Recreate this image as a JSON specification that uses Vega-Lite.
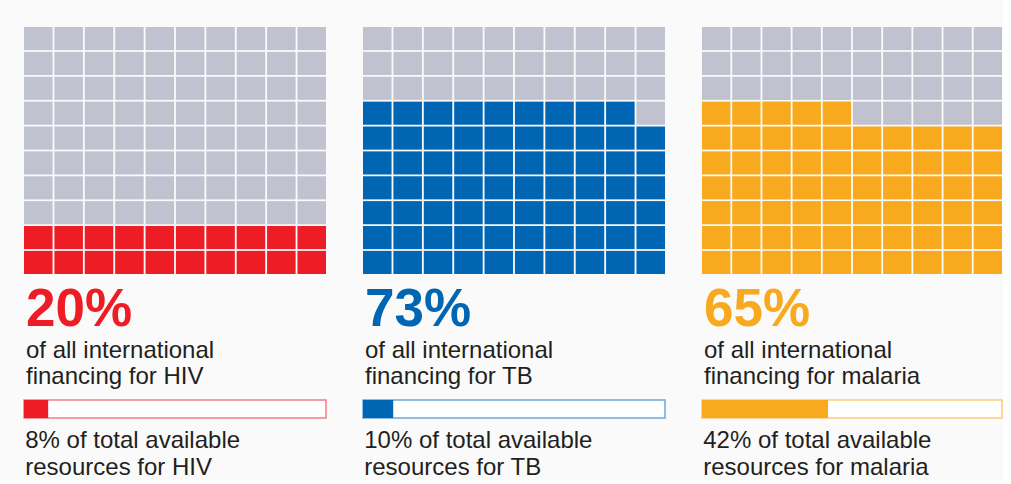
{
"$schema": "https://vega.github.io/schema/vega-lite/v6.json",
"background": "#fafafa",
"padding": {"left": 23, "top": 27, "right": 0, "bottom": 0},
"config": {"view": {"stroke": null}, "font": "Liberation Sans"},
"datasets": {
"cells": [
{"d":"HIV","r":1,"c":1,"s":0},{"d":"HIV","r":1,"c":2,"s":0},{"d":"HIV","r":1,"c":3,"s":0},{"d":"HIV","r":1,"c":4,"s":0},{"d":"HIV","r":1,"c":5,"s":0},{"d":"HIV","r":1,"c":6,"s":0},{"d":"HIV","r":1,"c":7,"s":0},{"d":"HIV","r":1,"c":8,"s":0},{"d":"HIV","r":1,"c":9,"s":0},{"d":"HIV","r":1,"c":10,"s":0},
{"d":"HIV","r":2,"c":1,"s":0},{"d":"HIV","r":2,"c":2,"s":0},{"d":"HIV","r":2,"c":3,"s":0},{"d":"HIV","r":2,"c":4,"s":0},{"d":"HIV","r":2,"c":5,"s":0},{"d":"HIV","r":2,"c":6,"s":0},{"d":"HIV","r":2,"c":7,"s":0},{"d":"HIV","r":2,"c":8,"s":0},{"d":"HIV","r":2,"c":9,"s":0},{"d":"HIV","r":2,"c":10,"s":0},
{"d":"HIV","r":3,"c":1,"s":0},{"d":"HIV","r":3,"c":2,"s":0},{"d":"HIV","r":3,"c":3,"s":0},{"d":"HIV","r":3,"c":4,"s":0},{"d":"HIV","r":3,"c":5,"s":0},{"d":"HIV","r":3,"c":6,"s":0},{"d":"HIV","r":3,"c":7,"s":0},{"d":"HIV","r":3,"c":8,"s":0},{"d":"HIV","r":3,"c":9,"s":0},{"d":"HIV","r":3,"c":10,"s":0},
{"d":"HIV","r":4,"c":1,"s":0},{"d":"HIV","r":4,"c":2,"s":0},{"d":"HIV","r":4,"c":3,"s":0},{"d":"HIV","r":4,"c":4,"s":0},{"d":"HIV","r":4,"c":5,"s":0},{"d":"HIV","r":4,"c":6,"s":0},{"d":"HIV","r":4,"c":7,"s":0},{"d":"HIV","r":4,"c":8,"s":0},{"d":"HIV","r":4,"c":9,"s":0},{"d":"HIV","r":4,"c":10,"s":0},
{"d":"HIV","r":5,"c":1,"s":0},{"d":"HIV","r":5,"c":2,"s":0},{"d":"HIV","r":5,"c":3,"s":0},{"d":"HIV","r":5,"c":4,"s":0},{"d":"HIV","r":5,"c":5,"s":0},{"d":"HIV","r":5,"c":6,"s":0},{"d":"HIV","r":5,"c":7,"s":0},{"d":"HIV","r":5,"c":8,"s":0},{"d":"HIV","r":5,"c":9,"s":0},{"d":"HIV","r":5,"c":10,"s":0},
{"d":"HIV","r":6,"c":1,"s":0},{"d":"HIV","r":6,"c":2,"s":0},{"d":"HIV","r":6,"c":3,"s":0},{"d":"HIV","r":6,"c":4,"s":0},{"d":"HIV","r":6,"c":5,"s":0},{"d":"HIV","r":6,"c":6,"s":0},{"d":"HIV","r":6,"c":7,"s":0},{"d":"HIV","r":6,"c":8,"s":0},{"d":"HIV","r":6,"c":9,"s":0},{"d":"HIV","r":6,"c":10,"s":0},
{"d":"HIV","r":7,"c":1,"s":0},{"d":"HIV","r":7,"c":2,"s":0},{"d":"HIV","r":7,"c":3,"s":0},{"d":"HIV","r":7,"c":4,"s":0},{"d":"HIV","r":7,"c":5,"s":0},{"d":"HIV","r":7,"c":6,"s":0},{"d":"HIV","r":7,"c":7,"s":0},{"d":"HIV","r":7,"c":8,"s":0},{"d":"HIV","r":7,"c":9,"s":0},{"d":"HIV","r":7,"c":10,"s":0},
{"d":"HIV","r":8,"c":1,"s":0},{"d":"HIV","r":8,"c":2,"s":0},{"d":"HIV","r":8,"c":3,"s":0},{"d":"HIV","r":8,"c":4,"s":0},{"d":"HIV","r":8,"c":5,"s":0},{"d":"HIV","r":8,"c":6,"s":0},{"d":"HIV","r":8,"c":7,"s":0},{"d":"HIV","r":8,"c":8,"s":0},{"d":"HIV","r":8,"c":9,"s":0},{"d":"HIV","r":8,"c":10,"s":0},
{"d":"HIV","r":9,"c":1,"s":1},{"d":"HIV","r":9,"c":2,"s":1},{"d":"HIV","r":9,"c":3,"s":1},{"d":"HIV","r":9,"c":4,"s":1},{"d":"HIV","r":9,"c":5,"s":1},{"d":"HIV","r":9,"c":6,"s":1},{"d":"HIV","r":9,"c":7,"s":1},{"d":"HIV","r":9,"c":8,"s":1},{"d":"HIV","r":9,"c":9,"s":1},{"d":"HIV","r":9,"c":10,"s":1},
{"d":"HIV","r":10,"c":1,"s":1},{"d":"HIV","r":10,"c":2,"s":1},{"d":"HIV","r":10,"c":3,"s":1},{"d":"HIV","r":10,"c":4,"s":1},{"d":"HIV","r":10,"c":5,"s":1},{"d":"HIV","r":10,"c":6,"s":1},{"d":"HIV","r":10,"c":7,"s":1},{"d":"HIV","r":10,"c":8,"s":1},{"d":"HIV","r":10,"c":9,"s":1},{"d":"HIV","r":10,"c":10,"s":1},
{"d":"TB","r":1,"c":1,"s":0},{"d":"TB","r":1,"c":2,"s":0},{"d":"TB","r":1,"c":3,"s":0},{"d":"TB","r":1,"c":4,"s":0},{"d":"TB","r":1,"c":5,"s":0},{"d":"TB","r":1,"c":6,"s":0},{"d":"TB","r":1,"c":7,"s":0},{"d":"TB","r":1,"c":8,"s":0},{"d":"TB","r":1,"c":9,"s":0},{"d":"TB","r":1,"c":10,"s":0},
{"d":"TB","r":2,"c":1,"s":0},{"d":"TB","r":2,"c":2,"s":0},{"d":"TB","r":2,"c":3,"s":0},{"d":"TB","r":2,"c":4,"s":0},{"d":"TB","r":2,"c":5,"s":0},{"d":"TB","r":2,"c":6,"s":0},{"d":"TB","r":2,"c":7,"s":0},{"d":"TB","r":2,"c":8,"s":0},{"d":"TB","r":2,"c":9,"s":0},{"d":"TB","r":2,"c":10,"s":0},
{"d":"TB","r":3,"c":1,"s":0},{"d":"TB","r":3,"c":2,"s":0},{"d":"TB","r":3,"c":3,"s":0},{"d":"TB","r":3,"c":4,"s":0},{"d":"TB","r":3,"c":5,"s":0},{"d":"TB","r":3,"c":6,"s":0},{"d":"TB","r":3,"c":7,"s":0},{"d":"TB","r":3,"c":8,"s":0},{"d":"TB","r":3,"c":9,"s":0},{"d":"TB","r":3,"c":10,"s":0},
{"d":"TB","r":4,"c":1,"s":1},{"d":"TB","r":4,"c":2,"s":1},{"d":"TB","r":4,"c":3,"s":1},{"d":"TB","r":4,"c":4,"s":1},{"d":"TB","r":4,"c":5,"s":1},{"d":"TB","r":4,"c":6,"s":1},{"d":"TB","r":4,"c":7,"s":1},{"d":"TB","r":4,"c":8,"s":1},{"d":"TB","r":4,"c":9,"s":1},{"d":"TB","r":4,"c":10,"s":0},
{"d":"TB","r":5,"c":1,"s":1},{"d":"TB","r":5,"c":2,"s":1},{"d":"TB","r":5,"c":3,"s":1},{"d":"TB","r":5,"c":4,"s":1},{"d":"TB","r":5,"c":5,"s":1},{"d":"TB","r":5,"c":6,"s":1},{"d":"TB","r":5,"c":7,"s":1},{"d":"TB","r":5,"c":8,"s":1},{"d":"TB","r":5,"c":9,"s":1},{"d":"TB","r":5,"c":10,"s":1},
{"d":"TB","r":6,"c":1,"s":1},{"d":"TB","r":6,"c":2,"s":1},{"d":"TB","r":6,"c":3,"s":1},{"d":"TB","r":6,"c":4,"s":1},{"d":"TB","r":6,"c":5,"s":1},{"d":"TB","r":6,"c":6,"s":1},{"d":"TB","r":6,"c":7,"s":1},{"d":"TB","r":6,"c":8,"s":1},{"d":"TB","r":6,"c":9,"s":1},{"d":"TB","r":6,"c":10,"s":1},
{"d":"TB","r":7,"c":1,"s":1},{"d":"TB","r":7,"c":2,"s":1},{"d":"TB","r":7,"c":3,"s":1},{"d":"TB","r":7,"c":4,"s":1},{"d":"TB","r":7,"c":5,"s":1},{"d":"TB","r":7,"c":6,"s":1},{"d":"TB","r":7,"c":7,"s":1},{"d":"TB","r":7,"c":8,"s":1},{"d":"TB","r":7,"c":9,"s":1},{"d":"TB","r":7,"c":10,"s":1},
{"d":"TB","r":8,"c":1,"s":1},{"d":"TB","r":8,"c":2,"s":1},{"d":"TB","r":8,"c":3,"s":1},{"d":"TB","r":8,"c":4,"s":1},{"d":"TB","r":8,"c":5,"s":1},{"d":"TB","r":8,"c":6,"s":1},{"d":"TB","r":8,"c":7,"s":1},{"d":"TB","r":8,"c":8,"s":1},{"d":"TB","r":8,"c":9,"s":1},{"d":"TB","r":8,"c":10,"s":1},
{"d":"TB","r":9,"c":1,"s":1},{"d":"TB","r":9,"c":2,"s":1},{"d":"TB","r":9,"c":3,"s":1},{"d":"TB","r":9,"c":4,"s":1},{"d":"TB","r":9,"c":5,"s":1},{"d":"TB","r":9,"c":6,"s":1},{"d":"TB","r":9,"c":7,"s":1},{"d":"TB","r":9,"c":8,"s":1},{"d":"TB","r":9,"c":9,"s":1},{"d":"TB","r":9,"c":10,"s":1},
{"d":"TB","r":10,"c":1,"s":1},{"d":"TB","r":10,"c":2,"s":1},{"d":"TB","r":10,"c":3,"s":1},{"d":"TB","r":10,"c":4,"s":1},{"d":"TB","r":10,"c":5,"s":1},{"d":"TB","r":10,"c":6,"s":1},{"d":"TB","r":10,"c":7,"s":1},{"d":"TB","r":10,"c":8,"s":1},{"d":"TB","r":10,"c":9,"s":1},{"d":"TB","r":10,"c":10,"s":1},
{"d":"malaria","r":1,"c":1,"s":0},{"d":"malaria","r":1,"c":2,"s":0},{"d":"malaria","r":1,"c":3,"s":0},{"d":"malaria","r":1,"c":4,"s":0},{"d":"malaria","r":1,"c":5,"s":0},{"d":"malaria","r":1,"c":6,"s":0},{"d":"malaria","r":1,"c":7,"s":0},{"d":"malaria","r":1,"c":8,"s":0},{"d":"malaria","r":1,"c":9,"s":0},{"d":"malaria","r":1,"c":10,"s":0},
{"d":"malaria","r":2,"c":1,"s":0},{"d":"malaria","r":2,"c":2,"s":0},{"d":"malaria","r":2,"c":3,"s":0},{"d":"malaria","r":2,"c":4,"s":0},{"d":"malaria","r":2,"c":5,"s":0},{"d":"malaria","r":2,"c":6,"s":0},{"d":"malaria","r":2,"c":7,"s":0},{"d":"malaria","r":2,"c":8,"s":0},{"d":"malaria","r":2,"c":9,"s":0},{"d":"malaria","r":2,"c":10,"s":0},
{"d":"malaria","r":3,"c":1,"s":0},{"d":"malaria","r":3,"c":2,"s":0},{"d":"malaria","r":3,"c":3,"s":0},{"d":"malaria","r":3,"c":4,"s":0},{"d":"malaria","r":3,"c":5,"s":0},{"d":"malaria","r":3,"c":6,"s":0},{"d":"malaria","r":3,"c":7,"s":0},{"d":"malaria","r":3,"c":8,"s":0},{"d":"malaria","r":3,"c":9,"s":0},{"d":"malaria","r":3,"c":10,"s":0},
{"d":"malaria","r":4,"c":1,"s":1},{"d":"malaria","r":4,"c":2,"s":1},{"d":"malaria","r":4,"c":3,"s":1},{"d":"malaria","r":4,"c":4,"s":1},{"d":"malaria","r":4,"c":5,"s":1},{"d":"malaria","r":4,"c":6,"s":0},{"d":"malaria","r":4,"c":7,"s":0},{"d":"malaria","r":4,"c":8,"s":0},{"d":"malaria","r":4,"c":9,"s":0},{"d":"malaria","r":4,"c":10,"s":0},
{"d":"malaria","r":5,"c":1,"s":1},{"d":"malaria","r":5,"c":2,"s":1},{"d":"malaria","r":5,"c":3,"s":1},{"d":"malaria","r":5,"c":4,"s":1},{"d":"malaria","r":5,"c":5,"s":1},{"d":"malaria","r":5,"c":6,"s":1},{"d":"malaria","r":5,"c":7,"s":1},{"d":"malaria","r":5,"c":8,"s":1},{"d":"malaria","r":5,"c":9,"s":1},{"d":"malaria","r":5,"c":10,"s":1},
{"d":"malaria","r":6,"c":1,"s":1},{"d":"malaria","r":6,"c":2,"s":1},{"d":"malaria","r":6,"c":3,"s":1},{"d":"malaria","r":6,"c":4,"s":1},{"d":"malaria","r":6,"c":5,"s":1},{"d":"malaria","r":6,"c":6,"s":1},{"d":"malaria","r":6,"c":7,"s":1},{"d":"malaria","r":6,"c":8,"s":1},{"d":"malaria","r":6,"c":9,"s":1},{"d":"malaria","r":6,"c":10,"s":1},
{"d":"malaria","r":7,"c":1,"s":1},{"d":"malaria","r":7,"c":2,"s":1},{"d":"malaria","r":7,"c":3,"s":1},{"d":"malaria","r":7,"c":4,"s":1},{"d":"malaria","r":7,"c":5,"s":1},{"d":"malaria","r":7,"c":6,"s":1},{"d":"malaria","r":7,"c":7,"s":1},{"d":"malaria","r":7,"c":8,"s":1},{"d":"malaria","r":7,"c":9,"s":1},{"d":"malaria","r":7,"c":10,"s":1},
{"d":"malaria","r":8,"c":1,"s":1},{"d":"malaria","r":8,"c":2,"s":1},{"d":"malaria","r":8,"c":3,"s":1},{"d":"malaria","r":8,"c":4,"s":1},{"d":"malaria","r":8,"c":5,"s":1},{"d":"malaria","r":8,"c":6,"s":1},{"d":"malaria","r":8,"c":7,"s":1},{"d":"malaria","r":8,"c":8,"s":1},{"d":"malaria","r":8,"c":9,"s":1},{"d":"malaria","r":8,"c":10,"s":1},
{"d":"malaria","r":9,"c":1,"s":1},{"d":"malaria","r":9,"c":2,"s":1},{"d":"malaria","r":9,"c":3,"s":1},{"d":"malaria","r":9,"c":4,"s":1},{"d":"malaria","r":9,"c":5,"s":1},{"d":"malaria","r":9,"c":6,"s":1},{"d":"malaria","r":9,"c":7,"s":1},{"d":"malaria","r":9,"c":8,"s":1},{"d":"malaria","r":9,"c":9,"s":1},{"d":"malaria","r":9,"c":10,"s":1},
{"d":"malaria","r":10,"c":1,"s":1},{"d":"malaria","r":10,"c":2,"s":1},{"d":"malaria","r":10,"c":3,"s":1},{"d":"malaria","r":10,"c":4,"s":1},{"d":"malaria","r":10,"c":5,"s":1},{"d":"malaria","r":10,"c":6,"s":1},{"d":"malaria","r":10,"c":7,"s":1},{"d":"malaria","r":10,"c":8,"s":1},{"d":"malaria","r":10,"c":9,"s":1},{"d":"malaria","r":10,"c":10,"s":1}
],
"shares": [{"d":"HIV","share":8},{"d":"TB","share":10},{"d":"malaria","share":42}]
},
"spacing": 35,
"hconcat": [
{
"spacing": 10,
"vconcat": [
{"width": 302, "height": 247, "data": {"name": "cells"}, "transform": [{"filter": "datum.d === 'HIV'"}],
 "mark": {"type": "rect"},
 "encoding": {
  "x": {"field": "c", "type": "ordinal", "axis": null, "scale": {"paddingInner": 0.06, "paddingOuter": 0}},
  "y": {"field": "r", "type": "ordinal", "axis": null, "scale": {"paddingInner": 0.07, "paddingOuter": 0}},
  "color": {"condition": {"test": "datum.s === 1", "value": "#ee1c25"}, "value": "#c0c2cf"}
 },
 "title": {"text": "20%", "subtitle": ["of all international", "financing for HIV"], "orient": "bottom", "anchor": "start", "offset": 10, "dx": 2, "color": "#ee1c25", "fontSize": 53, "fontWeight": "bold", "subtitleColor": "#231f20", "subtitleFontSize": 24, "subtitleFontWeight": "normal", "subtitleLineHeight": 26, "subtitlePadding": 2}
},
{"width": 302, "height": 18, "data": {"name": "shares"}, "transform": [{"filter": "datum.d === 'HIV'"}],
 "layer": [
  {"mark": {"type": "rect", "fill": "#ffffff", "stroke": "#f27f84", "strokeWidth": 1.5},
   "encoding": {"x": {"datum": 0, "type": "quantitative", "scale": {"domain": [0, 100]}, "axis": null}, "x2": {"datum": 100}}},
  {"mark": {"type": "rect", "color": "#ee1c25"},
   "encoding": {"x": {"field": "share", "type": "quantitative", "scale": {"domain": [0, 100]}, "axis": null}, "x2": {"datum": 0}}}
 ],
 "title": {"text": ["8% of total available", "resources for HIV"], "orient": "bottom", "anchor": "start", "offset": 10, "dx": 2, "color": "#231f20", "fontSize": 24, "fontWeight": "normal", "lineHeight": 27}
}
]
},
{
"spacing": 10,
"vconcat": [
{"width": 302, "height": 247, "data": {"name": "cells"}, "transform": [{"filter": "datum.d === 'TB'"}],
 "mark": {"type": "rect"},
 "encoding": {
  "x": {"field": "c", "type": "ordinal", "axis": null, "scale": {"paddingInner": 0.06, "paddingOuter": 0}},
  "y": {"field": "r", "type": "ordinal", "axis": null, "scale": {"paddingInner": 0.07, "paddingOuter": 0}},
  "color": {"condition": {"test": "datum.s === 1", "value": "#0065b3"}, "value": "#c0c2cf"}
 },
 "title": {"text": "73%", "subtitle": ["of all international", "financing for TB"], "orient": "bottom", "anchor": "start", "offset": 10, "dx": 2, "color": "#0065b3", "fontSize": 53, "fontWeight": "bold", "subtitleColor": "#231f20", "subtitleFontSize": 24, "subtitleFontWeight": "normal", "subtitleLineHeight": 26, "subtitlePadding": 2}
},
{"width": 302, "height": 18, "data": {"name": "shares"}, "transform": [{"filter": "datum.d === 'TB'"}],
 "layer": [
  {"mark": {"type": "rect", "fill": "#ffffff", "stroke": "#6fa6d6", "strokeWidth": 1.5},
   "encoding": {"x": {"datum": 0, "type": "quantitative", "scale": {"domain": [0, 100]}, "axis": null}, "x2": {"datum": 100}}},
  {"mark": {"type": "rect", "color": "#0065b3"},
   "encoding": {"x": {"field": "share", "type": "quantitative", "scale": {"domain": [0, 100]}, "axis": null}, "x2": {"datum": 0}}}
 ],
 "title": {"text": ["10% of total available", "resources for TB"], "orient": "bottom", "anchor": "start", "offset": 10, "dx": 2, "color": "#231f20", "fontSize": 24, "fontWeight": "normal", "lineHeight": 27}
}
]
},
{
"spacing": 10,
"vconcat": [
{"width": 300, "height": 247, "data": {"name": "cells"}, "transform": [{"filter": "datum.d === 'malaria'"}],
 "mark": {"type": "rect"},
 "encoding": {
  "x": {"field": "c", "type": "ordinal", "axis": null, "scale": {"paddingInner": 0.06, "paddingOuter": 0}},
  "y": {"field": "r", "type": "ordinal", "axis": null, "scale": {"paddingInner": 0.07, "paddingOuter": 0}},
  "color": {"condition": {"test": "datum.s === 1", "value": "#f8a91e"}, "value": "#c0c2cf"}
 },
 "title": {"text": "65%", "subtitle": ["of all international", "financing for malaria"], "orient": "bottom", "anchor": "start", "offset": 10, "dx": 2, "color": "#f8a91e", "fontSize": 53, "fontWeight": "bold", "subtitleColor": "#231f20", "subtitleFontSize": 24, "subtitleFontWeight": "normal", "subtitleLineHeight": 26, "subtitlePadding": 2}
},
{"width": 300, "height": 18, "data": {"name": "shares"}, "transform": [{"filter": "datum.d === 'malaria'"}],
 "layer": [
  {"mark": {"type": "rect", "fill": "#ffffff", "stroke": "#fbcb78", "strokeWidth": 1.5},
   "encoding": {"x": {"datum": 0, "type": "quantitative", "scale": {"domain": [0, 100]}, "axis": null}, "x2": {"datum": 100}}},
  {"mark": {"type": "rect", "color": "#f8a91e"},
   "encoding": {"x": {"field": "share", "type": "quantitative", "scale": {"domain": [0, 100]}, "axis": null}, "x2": {"datum": 0}}}
 ],
 "title": {"text": ["42% of total available", "resources for malaria"], "orient": "bottom", "anchor": "start", "offset": 10, "dx": 2, "color": "#231f20", "fontSize": 24, "fontWeight": "normal", "lineHeight": 27}
}
]
}
]
}
